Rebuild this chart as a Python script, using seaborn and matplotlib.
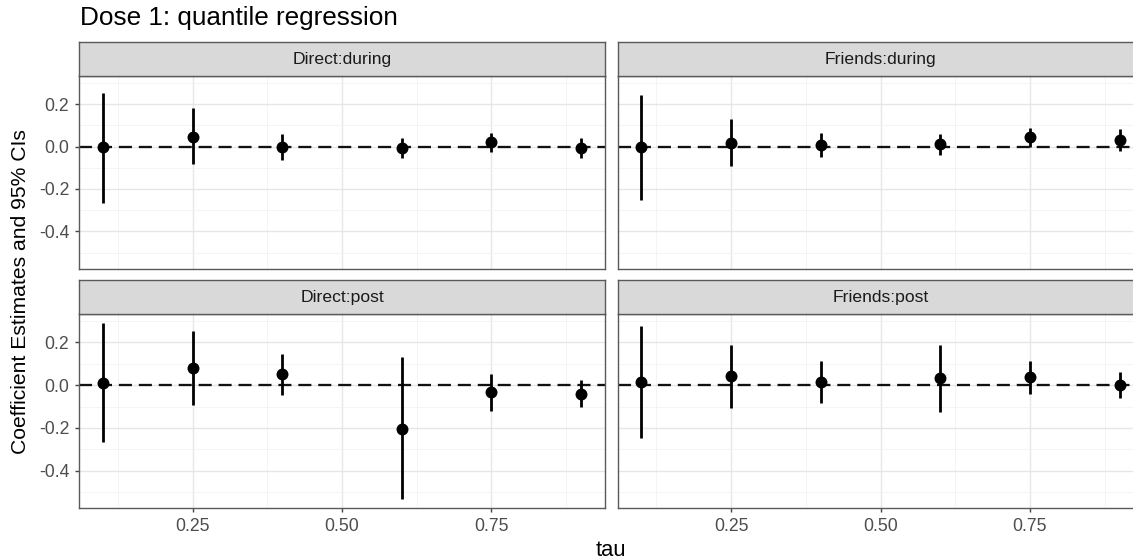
import numpy as np
import pandas as pd
import matplotlib
matplotlib.use("Agg")
import matplotlib.pyplot as plt
import seaborn as sns

# ---------------- data ----------------
tau = [0.10, 0.25, 0.40, 0.60, 0.75, 0.90]
panels = ["Direct:during", "Friends:during", "Direct:post", "Friends:post"]

direct_during_est = [0.000, 0.047, 0.000, -0.005, 0.020, -0.008]
direct_during_lo = [-0.264, -0.084, -0.062, -0.053, -0.027, -0.053]
direct_during_hi = [0.254, 0.181, 0.059, 0.041, 0.064, 0.039]

friends_during_est = [-0.003, 0.017, 0.008, 0.011, 0.044, 0.033]
friends_during_lo = [-0.253, -0.094, -0.050, -0.042, -0.003, -0.019]
friends_during_hi = [0.242, 0.128, 0.064, 0.061, 0.087, 0.083]

direct_post_est = [0.012, 0.081, 0.052, -0.203, -0.034, -0.041]
direct_post_lo = [-0.264, -0.091, -0.045, -0.534, -0.119, -0.103]
direct_post_hi = [0.290, 0.251, 0.147, 0.130, 0.050, 0.025]

friends_post_est = [0.017, 0.041, 0.016, 0.034, 0.037, 0.000]
friends_post_lo = [-0.245, -0.105, -0.084, -0.123, -0.039, -0.062]
friends_post_hi = [0.276, 0.186, 0.114, 0.190, 0.112, 0.062]

x_ticks = [0.25, 0.50, 0.75]
x_tick_labels = ["0.25", "0.50", "0.75"]
y_ticks = [-0.4, -0.2, 0.0, 0.2]
y_tick_labels = ["-0.4", "-0.2", "0.0", "0.2"]
title = "Dose 1: quantile regression"
xlabel = "tau"
ylabel = "Coefficient Estimates and 95% CIs"

series = {
    "Direct:during": (direct_during_est, direct_during_lo, direct_during_hi),
    "Friends:during": (friends_during_est, friends_during_lo, friends_during_hi),
    "Direct:post": (direct_post_est, direct_post_lo, direct_post_hi),
    "Friends:post": (friends_post_est, friends_post_lo, friends_post_hi),
}
rows = []
for p in panels:
    e, l, h = series[p]
    for t, ee, ll, hh in zip(tau, e, l, h):
        rows.append({"panel": p, "tau": t, "est": ee, "lo": ll, "hi": hh})
df = pd.DataFrame(rows)

# ---------------- style ----------------
sns.set_theme(style="white")
plt.rcParams["font.family"] = ["Liberation Sans", "DejaVu Sans"]
plt.rcParams["axes.unicode_minus"] = False

W, H = 1133, 560
fig = plt.figure(figsize=(W / 100, H / 100), dpi=100)

def fx(px):
    return px / W

def fy(px):
    return 1 - px / H

# ggplot-like 5% expansion
xmin, xmax = min(tau), max(tau)
xr = xmax - xmin
xlim = (xmin - 0.05 * xr, xmax + 0.05 * xr)
ymin, ymax = df["lo"].min(), df["hi"].max()
yr = ymax - ymin
ylim = (ymin - 0.05 * yr, ymax + 0.05 * yr)

col_x = [(79, 605), (617.5, 1143.5)]
row_y = [(76.3, 268.5), (314.3, 508.3)]
strip_h = 34

border_col = "#5a5a5a"
grid_major = "#E6E6E6"
grid_minor = "#F2F2F2"

for i, p in enumerate(panels):
    r, c = divmod(i, 2)
    x0, x1 = col_x[c]
    y0, y1 = row_y[r]
    ax = fig.add_axes([fx(x0), fy(y1), (x1 - x0) / W, (y1 - y0) / H])
    sub = df[df["panel"] == p]

    ax.set_xlim(*xlim)
    ax.set_ylim(*ylim)
    ax.set_xticks(x_ticks)
    ax.set_xticks([0.125, 0.375, 0.625, 0.875], minor=True)
    ax.set_yticks(y_ticks)
    ax.set_yticks([-0.5, -0.3, -0.1, 0.1, 0.3], minor=True)
    ax.grid(True, which="major", color=grid_major, lw=1.0, zorder=0)
    ax.grid(True, which="minor", color=grid_minor, lw=0.6, zorder=0)
    ax.set_axisbelow(True)

    ax.axhline(0, color="#111111", lw=1.65, dashes=(5.7, 3.0), zorder=2)
    ax.vlines(sub["tau"], sub["lo"], sub["hi"], color="black", lw=2.0, zorder=3)
    sns.scatterplot(data=sub, x="tau", y="est", ax=ax, color="black", s=74,
                    linewidth=0, zorder=4, legend=False)
    ax.set_xlabel("")
    ax.set_ylabel("")

    for s in ax.spines.values():
        s.set_color(border_col)
        s.set_linewidth(1.0)

    if r == 1:
        ax.set_xticklabels(x_tick_labels)
        ax.tick_params(axis="x", which="major", bottom=True, length=3, width=1,
                       color="#444444", labelsize=12.7, labelcolor="#4D4D4D", pad=4)
    else:
        ax.tick_params(axis="x", which="both", bottom=False, labelbottom=False)
    if c == 0:
        ax.set_yticklabels(y_tick_labels)
        ax.tick_params(axis="y", which="major", left=True, length=3, width=1,
                       color="#444444", labelsize=12.7, labelcolor="#4D4D4D", pad=4)
    else:
        ax.tick_params(axis="y", which="both", left=False, labelleft=False)
    ax.tick_params(which="minor", length=0)

    # strip
    sax = fig.add_axes([fx(x0), fy(y0), (x1 - x0) / W, strip_h / H])
    sax.set_facecolor("#D9D9D9")
    sax.set_xticks([])
    sax.set_yticks([])
    for s in sax.spines.values():
        s.set_color(border_col)
        s.set_linewidth(1.0)
    sax.text(0.5, 0.5, p, ha="center", va="center", fontsize=12.6,
             color="#1A1A1A", transform=sax.transAxes)

fig.text(fx(80), fy(25), title, fontsize=18.8, ha="left", va="baseline", color="black")
fig.text(fx(21), fy((76 + 508) / 2), ylabel, fontsize=15.2, rotation=90,
         ha="center", va="center", color="black")
fig.text(fx(611), fy(556), xlabel, fontsize=15.8, ha="center", va="baseline", color="black")

fig.savefig("out.png", dpi=100)
